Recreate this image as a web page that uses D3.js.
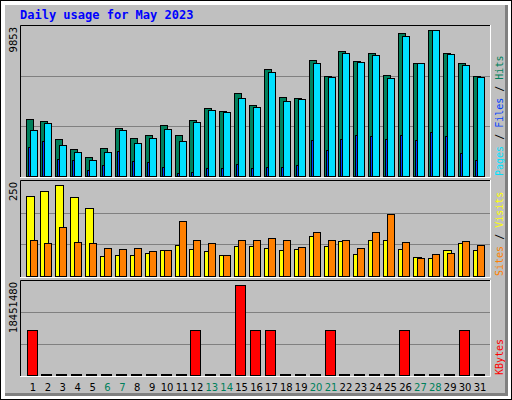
<!DOCTYPE html>
<html><head><meta charset="utf-8">
<script src="https://cdn.jsdelivr.net/npm/d3@7"></script>
<style>body{margin:0;background:#fff}</style></head>
<body><svg id="c" width="512" height="400"></svg>
<script>
const days = d3.range(1, 32);
const weekends = [6,7,13,14,20,21,27,28];
const hits  = [3730,3600,2430,1775,1250,1840,3145,2490,2690,3340,2690,3670,4450,4255,5430,4645,7060,5170,5100,7650,6540,8235,7585,8105,6605,9410,7450,9610,8105,7390,6540];
const files = [3010,3470,2040,1580,1060,1580,3015,2165,2490,3080,2300,3540,4320,4190,5100,4515,6800,4905,5040,7450,6475,8105,7520,7975,6410,9210,7390,9610,8040,7320,6475];
const pages = [1925,2300,1120,1060,400,730,1645,990,925,600,210,270,535,535,795,535,600,600,730,2360,1710,2425,2690,2620,2425,2690,2360,2885,2620,1515,1060];
const sites = [211,224,240,208,180,52,55,55,60,68,81,70,65,55,78,78,73,68,70,104,78,91,57,96,94,70,49,47,68,86,68];
const visits= [96,86,128,89,86,73,70,73,65,68,146,94,86,55,96,96,99,94,76,115,96,94,73,115,164,89,47,57,60,91,81];
const kbytes= [8930000,0,0,0,0,0,0,0,0,0,0,8930000,0,0,17670000,8930000,8930000,0,0,0,8930000,0,0,0,0,8930000,0,0,0,8930000,0];
const maxUsage = 9853, maxVisit = 250, maxKB = 18451480;

const svg = d3.select("#c");
svg.append("rect").attr("x",0.5).attr("y",0.5).attr("width",511).attr("height",399).attr("fill","#fff").attr("stroke","#000");
svg.append("rect").attr("x",5).attr("y",5).attr("width",503).attr("height",391).attr("fill","#808080");
svg.append("rect").attr("x",5).attr("y",5).attr("width",500).attr("height",388).attr("fill","#c0c0c0");
svg.append("text").attr("x",20).attr("y",19).text("Daily usage for May 2023")
  .attr("font-family","DejaVu Sans Mono").attr("font-weight","bold").attr("font-size",12).attr("fill","#0000ff");

const x = d3.scaleBand().domain(days).range([25.5,25.5+31*14.9]).paddingInner(0);
const mono = "DejaVu Sans Mono";

function panel(y0, y1, max, label) {
  svg.append("rect").attr("x",20).attr("y",y0).attr("width",470).attr("height",y1-y0).attr("fill","#c0c0c0");
  svg.append("path").attr("d",`M20.5,${y1}V${y0+0.5}H490`).attr("stroke","#000").attr("fill","none");
  svg.append("path").attr("d",`M20,${y1+0.5}H490.5V${y0}`).attr("stroke","#fff").attr("fill","none");
  const y = d3.scaleLinear().domain([0,max]).range([y1-1, y0+1]);
  [max/3, 2*max/3].forEach(v => svg.append("line").attr("x1",21).attr("x2",490).attr("y1",Math.round(y(v))+0.5).attr("y2",Math.round(y(v))+0.5).attr("stroke","#808080"));
  svg.append("text").attr("transform",`translate(17,${y0+2}) rotate(-90)`).attr("text-anchor","end")
    .attr("font-family","DejaVu Sans").attr("font-size",10).attr("fill","#000").text(label);
  return y;
}
function bars(y, data, dx, w, color) {
  svg.append("g").selectAll("rect").data(data).join("rect")
    .attr("x",(d,i)=>Math.round(x(days[i]))+dx+0.5).attr("width",w)
    .attr("y",d=>Math.min(Math.round(y(d)), Math.round(y(0))-1)+0.5)
    .attr("height",d=>Math.max(Math.round(y(0))-Math.round(y(d)),1))
    .attr("fill",color).attr("stroke","#000");
}
function rlabel(y1, parts) {
  const t = svg.append("text").attr("transform",`translate(503,${y1}) rotate(-90)`)
    .attr("font-family",mono).attr("font-size",10);
  parts.forEach(p => t.append("tspan").attr("fill",p[1]).text(p[0]));
}

const y1 = panel(25, 177, maxUsage, String(maxUsage));
bars(y1, hits, 0, 7, "#00805c");
bars(y1, files, 4, 7, "#00e0ff");
bars(y1, pages, 2, 2, "#0040ff");
rlabel(176, [["Pages","#00e0ff"],[" / ","#000"],["Files","#0040ff"],[" / ","#000"],["Hits","#00805c"]]);

const y2 = panel(180, 277, maxVisit, String(maxVisit));
bars(y2, sites, 0, 8, "#ffff00");
bars(y2, visits, 4, 7, "#ff8000");
rlabel(276, [["Sites","#ff8000"],[" / ","#000"],["Visits","#ffff00"]]);

const y3 = panel(280, 376, maxKB, String(maxKB));
bars(y3, kbytes, 1, 10, "#ff0000");
rlabel(375, [["KBytes","#ff0000"]]);

svg.append("g").selectAll("text").data(days).join("text")
  .attr("x",d=>x(d)+7.5).attr("y",391).attr("text-anchor","middle")
  .attr("font-family","DejaVu Sans").attr("font-size",10)
  .attr("fill",d=>weekends.includes(d)?"#00805c":"#000").text(d=>d);
</script></body></html>
